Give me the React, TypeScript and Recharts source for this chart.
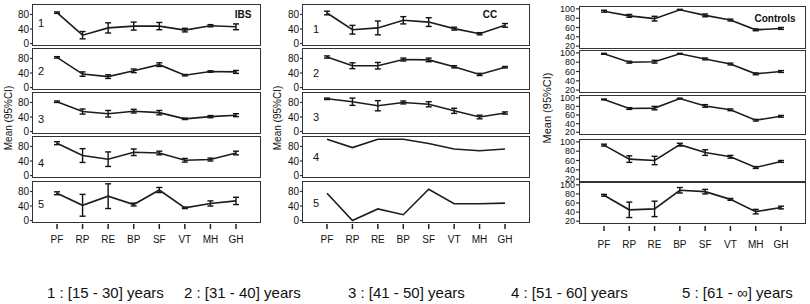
import React from 'react';
import { LineChart, Line, XAxis, YAxis, ErrorBar } from 'recharts';

const categories = ['PF', 'RP', 'RE', 'BP', 'SF', 'VT', 'MH', 'GH'];

// IBS
const ibs1 = [85, 23, 43, 48, 48, 37, 49, 46];
const ibs1Err = [2, 10, 14, 11, 10, 5, 3, 8];
const ibs2 = [83, 37, 30, 46, 63, 34, 44, 43];
const ibs2Err = [2, 6, 5, 5, 5, 2, 2, 4];
const ibs3 = [82, 55, 49, 56, 52, 35, 41, 45];
const ibs3Err = [2, 7, 9, 5, 6, 2, 3, 4];
const ibs4 = [89, 55, 45, 64, 62, 42, 44, 62];
const ibs4Err = [4, 19, 20, 9, 5, 5, 4, 5];
const ibs5 = [75, 42, 67, 44, 84, 35, 47, 54];
const ibs5Err = [4, 30, 34, 4, 7, 2, 7, 10];

// CC
const cc1 = [84, 38, 43, 64, 59, 41, 27, 50];
const cc1Err = [5, 12, 19, 10, 12, 4, 3, 5];
const cc2 = [84, 60, 60, 77, 76, 57, 36, 56];
const cc2Err = [3, 8, 9, 4, 5, 3, 3, 2];
const cc3 = [90, 82, 71, 80, 75, 57, 40, 51];
const cc3Err = [2, 10, 14, 4, 7, 7, 5, 3];
const cc4 = [100, 77, 100, 100, 88, 73, 68, 73];
const cc5 = [75, 0, 32, 16, 86, 46, 46, 48];

// Controls
const ct1 = [95, 85, 79, 98, 86, 76, 55, 58];
const ct1Err = [2, 3, 5, 1, 3, 2, 2, 2];
const ct2 = [98, 80, 81, 98, 87, 76, 55, 60];
const ct2Err = [1, 2, 3, 1, 2, 2, 2, 2];
const ct3 = [96, 75, 76, 98, 81, 72, 48, 57];
const ct3Err = [1, 2, 4, 1, 3, 2, 2, 2];
const ct4 = [93, 63, 60, 94, 77, 68, 45, 58];
const ct4Err = [2, 7, 9, 3, 6, 3, 2, 2];
const ct5 = [77, 45, 47, 88, 85, 68, 41, 50];
const ct5Err = [2, 17, 17, 6, 5, 2, 5, 3];

const groupTitles = ['IBS', 'CC', 'Controls'];
const subNumbers = ['1', '2', '3', '4', '5'];
const ageLegend = [
  '1 : [15 - 30] years',
  '2 : [31 - 40] years',
  '3 : [41 - 50] years',
  '4 : [51 - 60] years',
  '5 : [61 - \u221E] years',
];
const yTitle = 'Mean (95%CI)';
const patientTicks = [0, 40, 80];
const controlTicks = [20, 40, 60, 80, 100];

const FONT = '"Liberation Sans", Arial, Helvetica, sans-serif';
const PAD = { left: 24, right: 24 };
const M = 7;

const XTick = (props: any) => {
  const { x, y, payload, gap, dy } = props;
  return (
    <g>
      <line x1={x} x2={x} y1={y + gap} y2={y + gap + 5} stroke="#222" strokeWidth={1.5} />
      <text x={x} y={y + dy} textAnchor="middle" fontSize={10} fill="#111" fontFamily={FONT}>
        {payload.value}
      </text>
    </g>
  );
};

type SubProps = {
  values: number[];
  errors?: number[];
  left: number;
  top: number;
  w: number;
  h: number;
  domain: [number, number];
  ticks: number[];
  showX: boolean;
  xGap: number;
  xDy: number;
  yTickSize: number;
  yFont: number;
};

function SubChart(p: SubProps) {
  const data = categories.map((c, i) => ({ cat: c, v: p.values[i], e: p.errors ? p.errors[i] : 0 }));
  const YW = 30;
  const XH = p.showX ? 32 : 0;
  return (
    <>
      <div style={{ position: 'absolute', left: p.left - YW, top: p.top - M }}>
        <LineChart
          width={YW + p.w}
          height={p.h + M + (p.showX ? XH : M)}
          data={data}
          margin={{ top: M, right: 0, bottom: p.showX ? 0 : M, left: 0 }}
        >
          <XAxis
            dataKey="cat"
            height={XH}
            hide={!p.showX}
            interval={0}
            tickLine={false}
            tickSize={0}
            tickMargin={0}
            tick={p.showX ? (tp: any) => <XTick {...tp} gap={p.xGap} dy={p.xDy} /> : false}
            axisLine={false}
            padding={PAD}
          />
          <YAxis
            type="number"
            width={YW}
            domain={p.domain}
            allowDataOverflow
            ticks={p.ticks}
            interval={0}
            tickSize={p.yTickSize}
            tickMargin={1}
            tick={{ fontSize: p.yFont, fill: '#111', fontFamily: FONT }}
            tickLine={{ stroke: '#333', strokeWidth: 1.2 }}
            axisLine={false}
          />
          <Line dataKey="v" stroke="#1c1c1c" strokeWidth={1.6} dot={false} isAnimationActive={false}>
            {p.errors ? <ErrorBar dataKey="e" width={3} stroke="#111" strokeWidth={1.4} direction="y" /> : null}
          </Line>
        </LineChart>
      </div>
      <div
        style={{
          position: 'absolute',
          left: p.left - 1,
          top: p.top - 1,
          width: p.w + 2,
          height: p.h + 2,
          border: '1.5px solid #333',
          boxSizing: 'border-box',
          pointerEvents: 'none',
        }}
      />
    </>
  );
}

type Panel = {
  left: number;
  w: number;
  tops: number[];
  heights: number[];
  domain: [number, number];
  ticks: number[];
  series: number[][];
  errors: (number[] | undefined)[];
  xGap: number;
  xDy: number;
  yTickSize: number;
  yFont: number;
};

const panels: Panel[] = [
  {
    left: 33, w: 227, tops: [5, 49, 93, 137, 182], heights: [40, 40, 40, 40, 40],
    domain: [-4, 106], ticks: patientTicks,
    series: [ibs1, ibs2, ibs3, ibs4, ibs5], errors: [ibs1Err, ibs2Err, ibs3Err, ibs4Err, ibs5Err],
    xGap: 2, xDy: 21, yTickSize: 3, yFont: 10,
  },
  {
    left: 303, w: 226, tops: [5, 49, 93, 137, 182], heights: [40, 40, 40, 40, 40],
    domain: [-4, 106], ticks: patientTicks,
    series: [cc1, cc2, cc3, cc4, cc5], errors: [cc1Err, cc2Err, cc3Err, undefined, undefined],
    xGap: 2, xDy: 21, yTickSize: 3, yFont: 10,
  },
  {
    left: 580, w: 225, tops: [7, 51, 96, 140, 183], heights: [41, 41, 38, 41, 40],
    domain: [16, 104], ticks: controlTicks,
    series: [ct1, ct2, ct3, ct4, ct5], errors: [ct1Err, ct2Err, ct3Err, ct4Err, ct5Err],
    xGap: 3, xDy: 25, yTickSize: 4, yFont: 9,
  },
];

const titlePos = [
  { x: 243, y: 14 },
  { x: 490, y: 14 },
  { x: 775, y: 18 },
];
const yTitlePos = [
  { x: 8, y: 118, size: 10 },
  { x: 277, y: 118, size: 10 },
  { x: 547, y: 108, size: 11 },
];
const numberPos = [
  { x: 41, ys: [23, 71, 119, 163, 204] },
  { x: 316, ys: [29, 73, 117, 157, 203] },
];
const legendX = [47, 184, 348, 511, 682];

export default function App() {
  return (
    <div style={{ position: 'absolute', left: 0, top: 0, width: 810, height: 304, background: '#fff', fontFamily: FONT, overflow: 'hidden' }}>
      {panels.map((pn, pi) =>
        pn.series.map((s, si) => (
          <SubChart
            key={`${pi}-${si}`}
            values={s}
            errors={pn.errors[si]}
            left={pn.left}
            top={pn.tops[si]}
            w={pn.w}
            h={pn.heights[si]}
            domain={pn.domain}
            ticks={pn.ticks}
            showX={si === 4}
            xGap={pn.xGap}
            xDy={pn.xDy}
            yTickSize={pn.yTickSize}
            yFont={pn.yFont}
          />
        ))
      )}
      <svg width={810} height={304} style={{ position: 'absolute', left: 0, top: 0, pointerEvents: 'none' }}>
        {groupTitles.map((t, i) => (
          <text key={t} x={titlePos[i].x} y={titlePos[i].y} textAnchor="middle" dominantBaseline="central" fontSize={10} fontWeight="bold" fill="#111" fontFamily={FONT}>
            {t}
          </text>
        ))}
        {yTitlePos.map((p, i) => (
          <text key={i} transform={`translate(${p.x},${p.y}) rotate(-90)`} textAnchor="middle" dominantBaseline="central" fontSize={p.size} fill="#111" fontFamily={FONT}>
            {yTitle}
          </text>
        ))}
        {numberPos.map((np, i) =>
          subNumbers.map((n, j) => (
            <text key={`${i}-${j}`} x={np.x} y={np.ys[j]} textAnchor="middle" dominantBaseline="central" fontSize={11} fill="#111" fontFamily={FONT}>
              {n}
            </text>
          ))
        )}
        {ageLegend.map((t, i) => (
          <text key={t} x={legendX[i]} y={292} dominantBaseline="central" fontSize={15} fill="#111" fontFamily={FONT}>
            {t}
          </text>
        ))}
      </svg>
    </div>
  );
}
